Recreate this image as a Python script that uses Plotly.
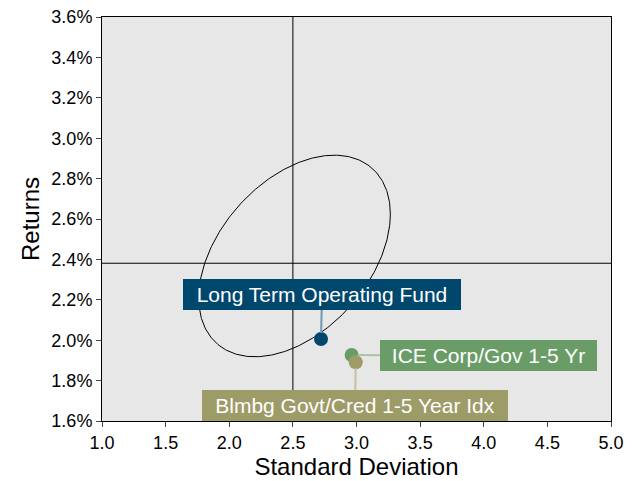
import numpy as np
import plotly.graph_objects as go

# Risk / return of each portfolio (standard deviation, annualised return)
names = ["Long Term Operating Fund", "ICE Corp/Gov 1-5 Yr", "Blmbg Govt/Cred 1-5 Year Idx"]
std_dev = [2.721, 2.962, 2.994]
returns = [0.02006, 0.01927, 0.01891]
marker_colors = ["#00476e", "#6a9c68", "#9d9b68"]
arrow_colors = ["#6f96b3", "#a5c6a2", "#c4c29b"]

# Reference lines
ref_std = 2.5
ref_return = 0.02381

# Confidence ellipse: centre, half-extents, correlation
ell_cx, ell_cy = 2.513, 0.02417
ell_hx, ell_hy = 0.753, 0.00499
ell_rho = 0.415

x_ticks = [1.0, 1.5, 2.0, 2.5, 3.0, 3.5, 4.0, 4.5, 5.0]
y_ticks = [0.016, 0.018, 0.020, 0.022, 0.024, 0.026, 0.028, 0.030, 0.032, 0.034, 0.036]

t = np.linspace(0, 2 * np.pi, 361)
ex = ell_cx + ell_hx * np.cos(t)
ey = ell_cy + ell_hy * (ell_rho * np.cos(t) + np.sqrt(1 - ell_rho ** 2) * np.sin(t))

fig = go.Figure()
fig.add_trace(go.Scatter(x=ex, y=ey, mode="lines",
                         line=dict(color="black", width=1), hoverinfo="skip",
                         showlegend=False))

for n, sx, r, c in zip(names, std_dev, returns, marker_colors):
    fig.add_trace(go.Scatter(x=[sx], y=[r], mode="markers", name=n,
                             marker=dict(size=14, color=c), showlegend=False))

fig.add_hline(y=ref_return, line=dict(color="black", width=1))
fig.add_vline(x=ref_std, line=dict(color="black", width=1))

# Label boxes: (ax, ay offset in px, width)
label_layout = [(1.0, -44.5, 274), (136.8, 1.0, 213), (-0.7, 43.4, 302)]
for (ax, ay, w), n, sx, r, c, ac in zip(label_layout, names, std_dev, returns,
                                         marker_colors, arrow_colors):
    fig.add_annotation(x=sx, y=r, text=n, showarrow=True, ax=ax, ay=ay,
                       arrowhead=0, arrowwidth=2, arrowcolor=ac, standoff=6,
                       bgcolor=c, borderpad=2, borderwidth=0, width=w, height=27,
                       font=dict(family="Liberation Sans, Arial", size=21, color="white"))

fig.update_layout(
    width=636, height=481,
    margin=dict(l=102, r=25, t=17, b=60),
    paper_bgcolor="white", plot_bgcolor="#e7e7e7",
    font=dict(family="Liberation Sans, Arial", color="black"),
    xaxis=dict(range=[1.0, 5.0], tickvals=x_ticks, tickformat=".1f",
               showgrid=False, zeroline=False, showline=True, linecolor="black",
               linewidth=1, mirror=True, ticks="outside", ticklen=5,
               tickcolor="#444", tickfont=dict(size=18), automargin=False,
               title=dict(text="Standard Deviation", font=dict(size=24), standoff=4)),
    yaxis=dict(range=[0.016, 0.036], tickvals=y_ticks, tickformat=".1%",
               showgrid=False, zeroline=False, showline=True, linecolor="black",
               linewidth=1, mirror=True, ticks="outside", ticklen=5,
               tickcolor="#444", tickfont=dict(size=18), automargin=False,
               title=dict(text="Returns", font=dict(size=24), standoff=4)),
)

fig.write_html("out.html")
